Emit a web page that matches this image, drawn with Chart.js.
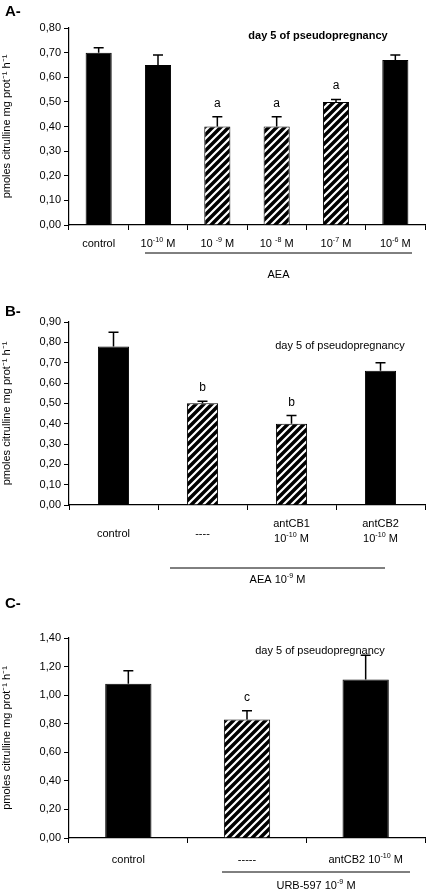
<!DOCTYPE html>
<html>
<head>
<meta charset="utf-8">
<script src="https://cdn.jsdelivr.net/npm/chart.js@4"></script>
<style>
  body { margin: 0; background: #fff; }
  .panel { position: absolute; left: 0; width: 428px; }
</style>
</head>
<body>
<div class="panel" style="top:0;height:300px"><canvas id="chartA"></canvas></div>
<div class="panel" style="top:300px;height:290px"><canvas id="chartB"></canvas></div>
<div class="panel" style="top:590px;height:303px"><canvas id="chartC"></canvas></div>
<script>
// --- data panel A ---
const labelsA = ['control', '10^{-10} M', '10 ^{-9} M', '10 ^{-8} M', '10^{-7} M', '10^{-6} M'];
const valuesA = [0.70, 0.65, 0.40, 0.40, 0.50, 0.67];
const errorsA = [0.02, 0.04, 0.04, 0.04, 0.01, 0.02];
const lettersA = ['', '', 'a', 'a', 'a', ''];
const hatchA = [false, false, true, true, true, false];
const ticksA = [0, 0.1, 0.2, 0.3, 0.4, 0.5, 0.6, 0.7, 0.8];

// --- data panel B ---
const labelsB = [['control'], ['----'], ['antCB1', '10^{-10} M'], ['antCB2', '10^{-10} M']];
const valuesB = [0.78, 0.50, 0.40, 0.66];
const errorsB = [0.07, 0.01, 0.04, 0.04];
const lettersB = ['', 'b', 'b', ''];
const hatchB = [false, true, true, false];
const ticksB = [0, 0.1, 0.2, 0.3, 0.4, 0.5, 0.6, 0.7, 0.8, 0.9];

// --- data panel C ---
const labelsC = ['control', '-----', 'antCB2 10^{-10} M'];
const valuesC = [1.08, 0.83, 1.11];
const errorsC = [0.09, 0.06, 0.17];
const lettersC = ['', 'c', ''];
const hatchC = [false, true, false];
const ticksC = [0, 0.2, 0.4, 0.6, 0.8, 1.0, 1.2, 1.4];

const FONT = '"Liberation Sans", Arial, sans-serif';

function makeHatch() {
    const c = document.createElement('canvas');
    c.width = 8; c.height = 8;
    const g = c.getContext('2d');
    g.fillStyle = '#000';
    g.fillRect(0, 0, 8, 8);
    g.strokeStyle = '#fff';
    g.lineWidth = 2.2;
    g.beginPath();
    g.moveTo(-2, 10); g.lineTo(10, -2);
    g.moveTo(-2, 2); g.lineTo(2, -2);
    g.moveTo(6, 10); g.lineTo(10, 6);
    g.stroke();
    return g.createPattern(c, 'repeat');
}
const hatch = makeHatch();

// draws text with ^{..} superscripts, centred on x
function drawRich(ctx, text, x, y, size) {
    const parts = [];
    const re = /\^\{([^}]*)\}/g;
    let last = 0, m;
    while ((m = re.exec(text)) !== null) {
        if (m.index > last) parts.push([text.slice(last, m.index), false]);
        parts.push([m[1], true]);
        last = re.lastIndex;
    }
    if (last < text.length) parts.push([text.slice(last), false]);
    let total = 0;
    parts.forEach(p => {
        ctx.font = (p[1] ? size * 0.65 : size) + 'px ' + FONT;
        total += ctx.measureText(p[0]).width;
    });
    let cx = x - total / 2;
    ctx.textAlign = 'left';
    ctx.textBaseline = 'alphabetic';
    parts.forEach(p => {
        ctx.font = (p[1] ? size * 0.65 : size) + 'px ' + FONT;
        ctx.fillText(p[0], cx, p[1] ? y - size * 0.45 : y);
        cx += ctx.measureText(p[0]).width;
    });
}

const extras = {
    id: 'extras',
    afterDatasetsDraw(chart, args, o) {
        const ctx = chart.ctx, x = chart.scales.x, y = chart.scales.y;
        ctx.save();
        ctx.strokeStyle = '#000';
        ctx.fillStyle = '#000';
        ctx.lineWidth = 1.5;
        o.values.forEach((v, i) => {
            const px = x.getPixelForValue(i);
            const top = y.getPixelForValue(v + o.errors[i]);
            const base = y.getPixelForValue(v);
            ctx.beginPath();
            ctx.moveTo(px, base); ctx.lineTo(px, top);
            ctx.moveTo(px - 5, top); ctx.lineTo(px + 5, top);
            ctx.stroke();
            if (o.letters[i]) {
                ctx.font = '12px ' + FONT;
                ctx.textAlign = 'center';
                ctx.fillText(o.letters[i], px, top - 10);
            }
        });
        const bottom = chart.chartArea.bottom;
        o.labels.forEach((lab, i) => {
            const px = x.getPixelForValue(i);
            const lines = Array.isArray(lab) ? lab : [lab];
            lines.forEach((t, j) => {
                const yy = bottom + o.labelY + j * 15 - (lines.length - 1) * 10;
                drawRich(ctx, t, px, yy, 11);
            });
        });
        ctx.lineWidth = 1;
        ctx.beginPath();
        ctx.moveTo(o.group.x1, bottom + o.group.lineY);
        ctx.lineTo(o.group.x2, bottom + o.group.lineY);
        ctx.stroke();
        drawRich(ctx, o.group.text, (o.group.x1 + o.group.x2) / 2, bottom + o.group.textY, 11);
        ctx.font = (o.note.bold ? 'bold ' : '') + '11px ' + FONT;
        ctx.textAlign = 'center';
        ctx.fillText(o.note.text, o.note.x, o.note.y);
        ctx.font = 'bold 15px ' + FONT;
        ctx.textAlign = 'left';
        ctx.fillText(o.panel, 5, o.panelY);
        ctx.restore();
    }
};

function makeChart(id, cfg) {
    new Chart(document.getElementById(id), {
        type: 'bar',
        data: {
            labels: cfg.values.map((v, i) => i),
            datasets: [{
                data: cfg.values,
                backgroundColor: cfg.hatch.map(h => h ? hatch : '#000'),
                borderColor: '#000',
                borderWidth: 1,
                barPercentage: cfg.barPct,
                categoryPercentage: 1
            }]
        },
        options: {
            responsive: true,
            maintainAspectRatio: false,
            animation: false,
            layout: { padding: { top: cfg.padTop, right: 3 } },
            scales: {
                x: {
                    offset: true,
                    grid: { offset: true, drawOnChartArea: false, color: '#000', tickLength: 5 },
                    border: { color: '#000', width: 1.2 },
                    ticks: { callback: () => '' },
                    afterFit: s => { s.height = cfg.xHeight; }
                },
                y: {
                    min: 0, max: cfg.ticks[cfg.ticks.length - 1],
                    afterBuildTicks: s => { s.ticks = cfg.ticks.map(v => ({ value: v })); },
                    grid: { drawOnChartArea: false, color: '#000', tickLength: 5 },
                    border: { color: '#000', width: 1.2 },
                    ticks: {
                        color: '#000', font: { family: FONT, size: 11 }, padding: 3,
                        callback: v => v.toFixed(2).replace('.', ',')
                    },
                    title: {
                        display: true, color: '#000', font: { family: FONT, size: 11 },
                        text: 'pmoles citrulline mg prot⁻¹ h⁻¹', padding: 0
                    },
                    afterFit: s => { s.width = 69; }
                }
            },
            plugins: {
                legend: { display: false },
                tooltip: { enabled: false },
                extras: cfg.extras
            }
        },
        plugins: [extras]
    });
}

makeChart('chartA', {
    values: valuesA, hatch: hatchA, ticks: ticksA, barPct: 0.44, padTop: 28, xHeight: 75,
    extras: {
        values: valuesA, errors: errorsA, letters: lettersA, labels: labelsA, labelY: 22,
        group: { x1: 145, x2: 412, lineY: 28, text: 'AEA', textY: 53 },
        note: { text: 'day 5 of pseudopregnancy', x: 318, y: 39, bold: true },
        panel: 'A-', panelY: 16
    }
});
makeChart('chartB', {
    values: valuesB, hatch: hatchB, ticks: ticksB, barPct: 0.35, padTop: 22, xHeight: 85,
    extras: {
        values: valuesB, errors: errorsB, letters: lettersB, labels: labelsB, labelY: 32,
        group: { x1: 170, x2: 385, lineY: 63, text: 'AEA 10^{-9} M', textY: 78 },
        note: { text: 'day 5 of pseudopregnancy', x: 340, y: 49, bold: false },
        panel: 'B-', panelY: 16
    }
});
makeChart('chartC', {
    values: valuesC, hatch: hatchC, ticks: ticksC, barPct: 0.39, padTop: 48, xHeight: 55,
    extras: {
        values: valuesC, errors: errorsC, letters: lettersC, labels: labelsC, labelY: 25,
        group: { x1: 222, x2: 410, lineY: 34, text: 'URB-597 10^{-9} M', textY: 51 },
        note: { text: 'day 5 of pseudopregnancy', x: 320, y: 64, bold: false },
        panel: 'C-', panelY: 18
    }
});
</script>
</body>
</html>
